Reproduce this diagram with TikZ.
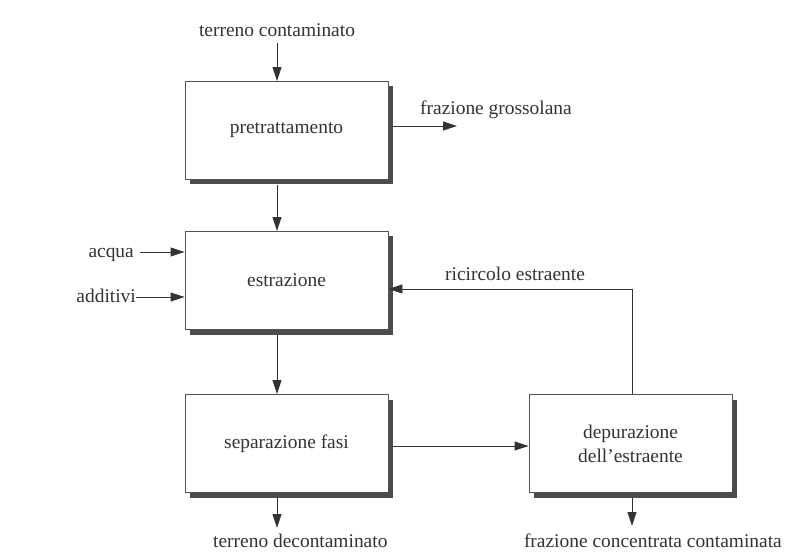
\documentclass[tikz,border=0pt]{standalone}
\usepackage{fontspec}
\setmainfont{Liberation Serif}
\usetikzlibrary{arrows.meta,calc}
\definecolor{ink}{HTML}{333333}
\definecolor{shade}{HTML}{4C4C4C}
\tikzset{
  unit/.style={draw=ink!85, line width=0.9bp, fill=white,
    minimum width=203bp, minimum height=98bp, inner sep=0pt,
    text=ink, font=\fontsize{19.5}{24}\selectfont, align=center},
  unitshadow/.style={fill=shade, draw=none,
    minimum width=203bp, minimum height=98bp, inner sep=0pt},
  lbl/.style={text=ink, font=\fontsize{19.5}{24}\selectfont, inner sep=0pt},
  flow/.style={draw=ink, line width=0.9bp,
    -{Triangle[length=14bp,width=9bp]}},
}
\begin{document}
\begin{tikzpicture}[x=1bp,y=-1bp]
  \useasboundingbox[fill=white] (0,0) rectangle (788,553);

  % drop shadows, offset down and to the right
  \foreach \px/\py in {286.5/130.5, 286.5/280.5, 286.5/443.5, 630.5/443.5}
    \node[unitshadow] at (\px+5,\py+5) {};

  % process units
  \node[unit] (pre) at (286.5,130.5) {pretrattamento};
  \node[unit] (ext) at (286.5,280.5) {estrazione};
  \node[unit] (sep) at (286.5,443.5) {separazione fasi};
  \node[unit] (dep) at (630.5,443.5) {depurazione\\dell’estraente};

  % stream labels
  \node[lbl, anchor=base] (tc) at (277,37) {terreno contaminato};
  \node[lbl, anchor=base west] (fg) at (420,115) {frazione grossolana};
  \node[lbl, anchor=base east] (aq) at (134,258) {acqua};
  \node[lbl, anchor=base east] (ad) at (136,303) {additivi};
  \node[lbl, anchor=base west] (rc) at (445,281) {ricircolo estraente};
  \node[lbl, anchor=base west] (td) at (213,547) {terreno decontaminato};
  \node[lbl, anchor=base east] (fc) at (782,547) {frazione concentrata contaminata};

  % free ends of the streams
  \coordinate (fgend) at (457,126);
  \coordinate (tdend) at (277,528);
  \coordinate (fcend) at (632,526);

  % main line
  \draw[flow] (277,43) -- (pre.north -| tdend);
  \draw[flow] ([yshift=-5bp]pre.south -| tdend) -- (ext.north -| tdend);
  \draw[flow] ([yshift=-5bp]ext.south -| tdend) -- (sep.north -| tdend);
  \draw[flow] ([yshift=-5bp]sep.south -| tdend) -- (tdend);

  % side streams
  \draw[flow] ([xshift=5bp]pre.east |- fgend) -- (fgend);
  \draw[flow] ([xshift=6bp]aq.east |- 0,252) -- (ext.west |- 0,252);
  \draw[flow] (ad.east |- 0,297) -- (ext.west |- 0,297);

  % extractant loop
  \draw[flow] ([xshift=5bp]sep.east |- 0,446) -- (dep.west |- 0,446);
  \draw[flow] (dep.north -| fcend) |- (ext.east |- 0,289);
  \draw[flow] ([yshift=-5bp]dep.south -| fcend) -- (fcend);
\end{tikzpicture}
\end{document}
